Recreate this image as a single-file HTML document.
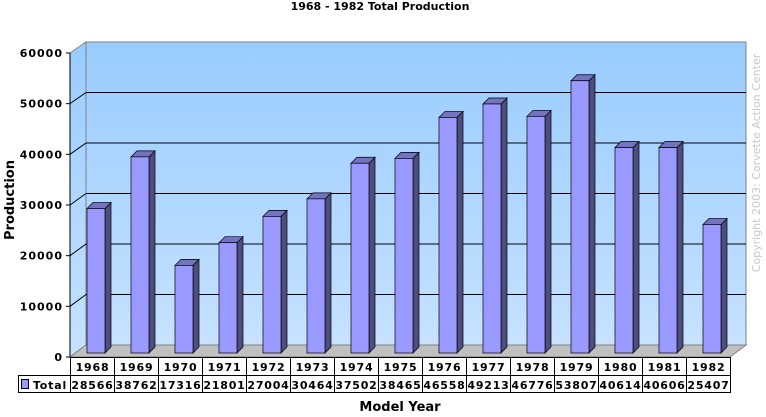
<!DOCTYPE html>
<html><head><meta charset="utf-8"><style>
html,body{margin:0;padding:0;background:#fff;}
svg{display:block;font-family:"DejaVu Sans","Liberation Sans",sans-serif;}
</style></head><body>
<svg id="s" width="766" height="417" viewBox="0 0 766 417" xmlns="http://www.w3.org/2000/svg">
<defs>
<linearGradient id="bg" x1="0" y1="0" x2="0" y2="1">
<stop offset="0" stop-color="#99ccff"/><stop offset="1" stop-color="#c6e2ff"/>
</linearGradient>
</defs>
<text x="380" y="10" text-anchor="middle" font-size="11" font-weight="bold">1968 - 1982 Total Production</text>
<polygon points="86,42 746,42 746,345 86,345" fill="url(#bg)" stroke="#808080"/>
<polygon points="70,53 86,42 86,345 70,357" fill="url(#bg)" stroke="#808080"/>
<polygon points="70,357 86,345 746,345 730,357" fill="#c0c0c0" stroke="#808080"/>
<g id="grid"></g>
<g id="bars"></g>
<line x1="70" y1="53" x2="70" y2="357" stroke="#000"/>
<g id="ticks" font-size="11" font-weight="bold" text-anchor="end" letter-spacing="1"></g>
<text transform="translate(14,200) rotate(-90)" text-anchor="middle" font-size="13" font-weight="bold">Production</text>
<text transform="translate(760,163) rotate(-90)" text-anchor="middle" font-size="11" fill="#c8c8c8">Copyright 2003: Corvette Action Center</text>
<g id="tbl" font-size="11" font-weight="bold" text-anchor="middle" letter-spacing="0.8"></g>
<text x="400" y="411" text-anchor="middle" font-size="13" font-weight="bold">Model Year</text>
</svg>
<script>
var NS="http://www.w3.org/2000/svg";
function el(p,t,a,txt){var e=document.createElementNS(NS,t);for(var k in a)e.setAttribute(k,a[k]);if(txt!=null)e.textContent=txt;document.getElementById(p).appendChild(e);}
for(var i=1;i<=5;i++){var yb=345-i*50.5,yf=357-i*50.67;
el("grid","line",{x1:86,y1:yb,x2:746,y2:yb,stroke:"#000"});
el("grid","line",{x1:70,y1:yf,x2:86,y2:yb,stroke:"#000"});}
for(var i=0;i<=6;i++){var y=357-i*50.67;
el("ticks","line",{x1:66,y1:y,x2:70,y2:y,stroke:"#000"});
el("ticks","text",{x:63,y:y+4},String(i*10000));}
var yrs=[1968,1969,1970,1971,1972,1973,1974,1975,1976,1977,1978,1979,1980,1981,1982];
var v=[28566,38762,17316,21801,27004,30464,37502,38465,46558,49213,46776,53807,40614,40606,25407];
for(var i=0;i<15;i++){var x=87+i*44,w=18,d=6,b=353,t=b-v[i]*0.00506;
el("bars","polygon",{points:[x+w,t,x+w+d,t-d,x+w+d,b-d,x+w,b].join(","),fill:"#4d4d80",stroke:"#000","stroke-width":0.7});
el("bars","polygon",{points:[x,t,x+d,t-d,x+w+d,t-d,x+w,t].join(","),fill:"#7373c0",stroke:"#000","stroke-width":0.7});
el("bars","rect",{x:x,y:t,width:w,height:b-t,fill:"#9999ff",stroke:"#000","stroke-width":0.7});}
el("tbl","rect",{x:70.5,y:357.5,width:660,height:35,fill:"none",stroke:"#000"});
el("tbl","rect",{x:18.5,y:375.5,width:52,height:17,fill:"none",stroke:"#000"});
el("tbl","line",{x1:70,y1:375.5,x2:730,y2:375.5,stroke:"#000"});
el("tbl","rect",{x:21.5,y:379.5,width:7,height:9,fill:"#9999ff",stroke:"#000"});
el("tbl","text",{x:50,y:389},"Total");
for(var i=0;i<15;i++){var x=70+i*44;
if(i>0)el("tbl","line",{x1:x+0.5,y1:357,x2:x+0.5,y2:393,stroke:"#000"});
el("tbl","text",{x:x+22.5,y:371},String(yrs[i]));
el("tbl","text",{x:x+22.5,y:389},String(v[i]));}
</script>
</body></html>
